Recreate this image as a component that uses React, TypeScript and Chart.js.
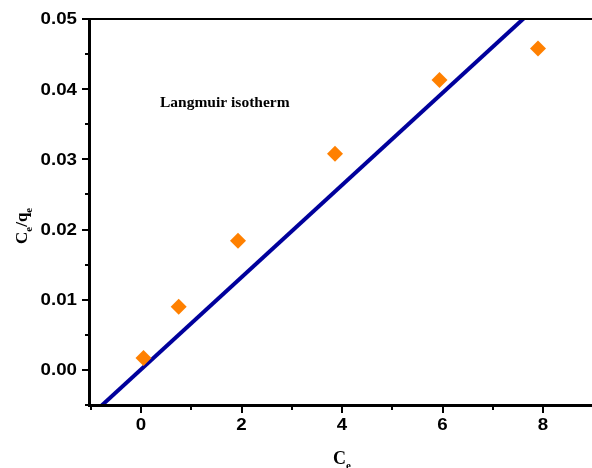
import React, { useEffect, useRef } from "react";
import { Chart, registerables } from "chart.js";

Chart.register(...registerables);

// Experimental points
const ceValues = [0.05, 0.75, 1.93, 3.86, 5.94, 7.9];
const ceQeValues = [0.0017, 0.009, 0.0184, 0.0308, 0.0413, 0.0458];

// Linear fit line endpoints (clipped by plot area)
const fitX = [-1, 8];
const fitY = [-0.0065, 0.0526];

// Axes
const xMajorTicks = [0, 2, 4, 6, 8];
const xTickLabels = ["0", "2", "4", "6", "8"];
const xMinorTicks = [-1, 1, 3, 5, 7];
const yMajorTicks = [0, 0.01, 0.02, 0.03, 0.04, 0.05];
const yTickLabels = ["0.00", "0.01", "0.02", "0.03", "0.04", "0.05"];
const yMinorTicks = [-0.005, 0.005, 0.015, 0.025, 0.035, 0.045];
const xMin = -1.015;
const xMax = 8.975;
const yMin = -0.005;
const yMax = 0.05;

const annotationText = "Langmuir isotherm";

const W = 592;
const H = 468;

const TICK_FONT = "bold 16px 'Liberation Sans', Arial, sans-serif";
const STRETCH = 1.17;

function stretchedText(ctx: CanvasRenderingContext2D, text: string, x: number, y: number, align: "left" | "right" | "center") {
  ctx.save();
  ctx.font = TICK_FONT;
  const w = ctx.measureText(text).width * STRETCH;
  let lx = x;
  if (align === "right") lx = x - w;
  else if (align === "center") lx = x - w / 2;
  ctx.translate(lx, y);
  ctx.scale(STRETCH, 1);
  ctx.textAlign = "left";
  ctx.textBaseline = "middle";
  ctx.fillText(text, 0, 0);
  ctx.restore();
}

const framePlugin = {
  id: "frame",
  afterDraw(chart: any) {
    const { ctx, chartArea, scales } = chart;
    const xs = scales.x;
    const ys = scales.y;
    const { left, right, top, bottom } = chartArea;
    ctx.save();
    ctx.strokeStyle = "#000";
    ctx.lineCap = "butt";
    // left axis
    ctx.lineWidth = 3;
    ctx.beginPath();
    ctx.moveTo(left - 0.5, top - 1);
    ctx.lineTo(left - 0.5, bottom + 2);
    ctx.stroke();
    // bottom axis
    ctx.beginPath();
    ctx.moveTo(left - 2, bottom + 0.5);
    ctx.lineTo(right, bottom + 0.5);
    ctx.stroke();
    // top axis
    ctx.lineWidth = 2;
    ctx.beginPath();
    ctx.moveTo(left - 2, top);
    ctx.lineTo(right, top);
    ctx.stroke();
    // x ticks
    ctx.lineWidth = 2;
    xMajorTicks.forEach((v) => {
      const px = Math.round(xs.getPixelForValue(v));
      ctx.beginPath();
      ctx.moveTo(px, bottom + 1);
      ctx.lineTo(px, bottom + 8);
      ctx.stroke();
    });
    xMinorTicks.forEach((v) => {
      const px = Math.round(xs.getPixelForValue(v));
      ctx.beginPath();
      ctx.moveTo(px, bottom + 1);
      ctx.lineTo(px, bottom + 5);
      ctx.stroke();
    });
    // y ticks
    yMajorTicks.forEach((v) => {
      const py = Math.round(ys.getPixelForValue(v));
      ctx.beginPath();
      ctx.moveTo(left - 1, py);
      ctx.lineTo(left - 8, py);
      ctx.stroke();
    });
    yMinorTicks.forEach((v) => {
      const py = Math.round(ys.getPixelForValue(v));
      ctx.beginPath();
      ctx.moveTo(left - 1, py);
      ctx.lineTo(left - 5, py);
      ctx.stroke();
    });

    ctx.fillStyle = "#000";
    // tick labels
    xMajorTicks.forEach((v, i) => {
      stretchedText(ctx, xTickLabels[i], xs.getPixelForValue(v), bottom + 21, "center");
    });
    yMajorTicks.forEach((v, i) => {
      stretchedText(ctx, yTickLabels[i], left - 13, ys.getPixelForValue(v) + 1, "right");
    });

    // annotation
    ctx.font = "bold 15.5px 'Liberation Serif', 'Times New Roman', serif";
    ctx.textAlign = "left";
    ctx.textBaseline = "alphabetic";
    ctx.fillText(annotationText, 160, 107);

    // x axis title: C_e
    const big = "bold 18px 'Liberation Serif', 'Times New Roman', serif";
    const small = "bold 11px 'Liberation Serif', 'Times New Roman', serif";
    ctx.font = big;
    const cw = ctx.measureText("C").width;
    const xTitleX = 333;
    const xTitleY = 464;
    ctx.fillText("C", xTitleX, xTitleY);
    ctx.font = small;
    ctx.fillText("e", xTitleX + cw, xTitleY + 5);

    // y axis title: C_e/q_e rotated
    ctx.translate(27, 244);
    ctx.rotate(-Math.PI / 2);
    let cx = 0;
    const parts: [string, boolean][] = [
      ["C", false],
      ["e", true],
      ["/q", false],
      ["e", true],
    ];
    parts.forEach(([t, sub]) => {
      ctx.font = sub ? small : "bold 17px 'Liberation Serif', 'Times New Roman', serif";
      ctx.fillText(t, cx, sub ? 5 : 0);
      cx += ctx.measureText(t).width;
    });
    ctx.restore();
  },
};

export default function App() {
  const ref = useRef<HTMLCanvasElement | null>(null);
  useEffect(() => {
    document.body.style.margin = "0";
    const canvas = ref.current!;
    const chart = new Chart(canvas, {
      type: "scatter",
      data: {
        datasets: [
          {
            type: "scatter",
            label: "data",
            data: ceValues.map((x, i) => ({ x, y: ceQeValues[i] })),
            pointStyle: "rectRot",
            pointRadius: 8,
            pointHoverRadius: 8,
            backgroundColor: "#FF8000",
            borderColor: "#FF8000",
            borderWidth: 0,
            order: 0,
          },
          {
            type: "line",
            label: "fit",
            data: fitX.map((x, i) => ({ x, y: fitY[i] })),
            borderColor: "#00009C",
            borderWidth: 4,
            pointRadius: 0,
            showLine: true,
            fill: false,
            clip: 0,
            order: 1,
          } as any,
        ],
      },
      options: {
        responsive: false,
        animation: false,
        events: [],
        layout: { autoPadding: false, padding: { top: 19, right: 0, left: 0, bottom: 0 } },
        plugins: {
          legend: { display: false },
          tooltip: { enabled: false },
        },
        scales: {
          x: {
            type: "linear",
            min: xMin,
            max: xMax,
            grid: { display: false },
            border: { display: false },
            ticks: { display: false },
            afterFit: (s: any) => {
              s.height = H - 405;
              s.paddingLeft = 0;
              s.paddingRight = 0;
            },
          },
          y: {
            type: "linear",
            min: yMin,
            max: yMax,
            grid: { display: false },
            border: { display: false },
            ticks: { display: false },
            afterFit: (s: any) => {
              s.width = 90;
              s.paddingTop = 0;
              s.paddingBottom = 0;
            },
          },
        },
      },
      plugins: [framePlugin],
    });
    return () => chart.destroy();
  }, []);
  return (
    <div style={{ position: "fixed", left: 0, top: 0, width: W, height: H, background: "#fff" }}>
      <canvas ref={ref} width={W} height={H} style={{ width: W, height: H, display: "block" }} />
    </div>
  );
}
